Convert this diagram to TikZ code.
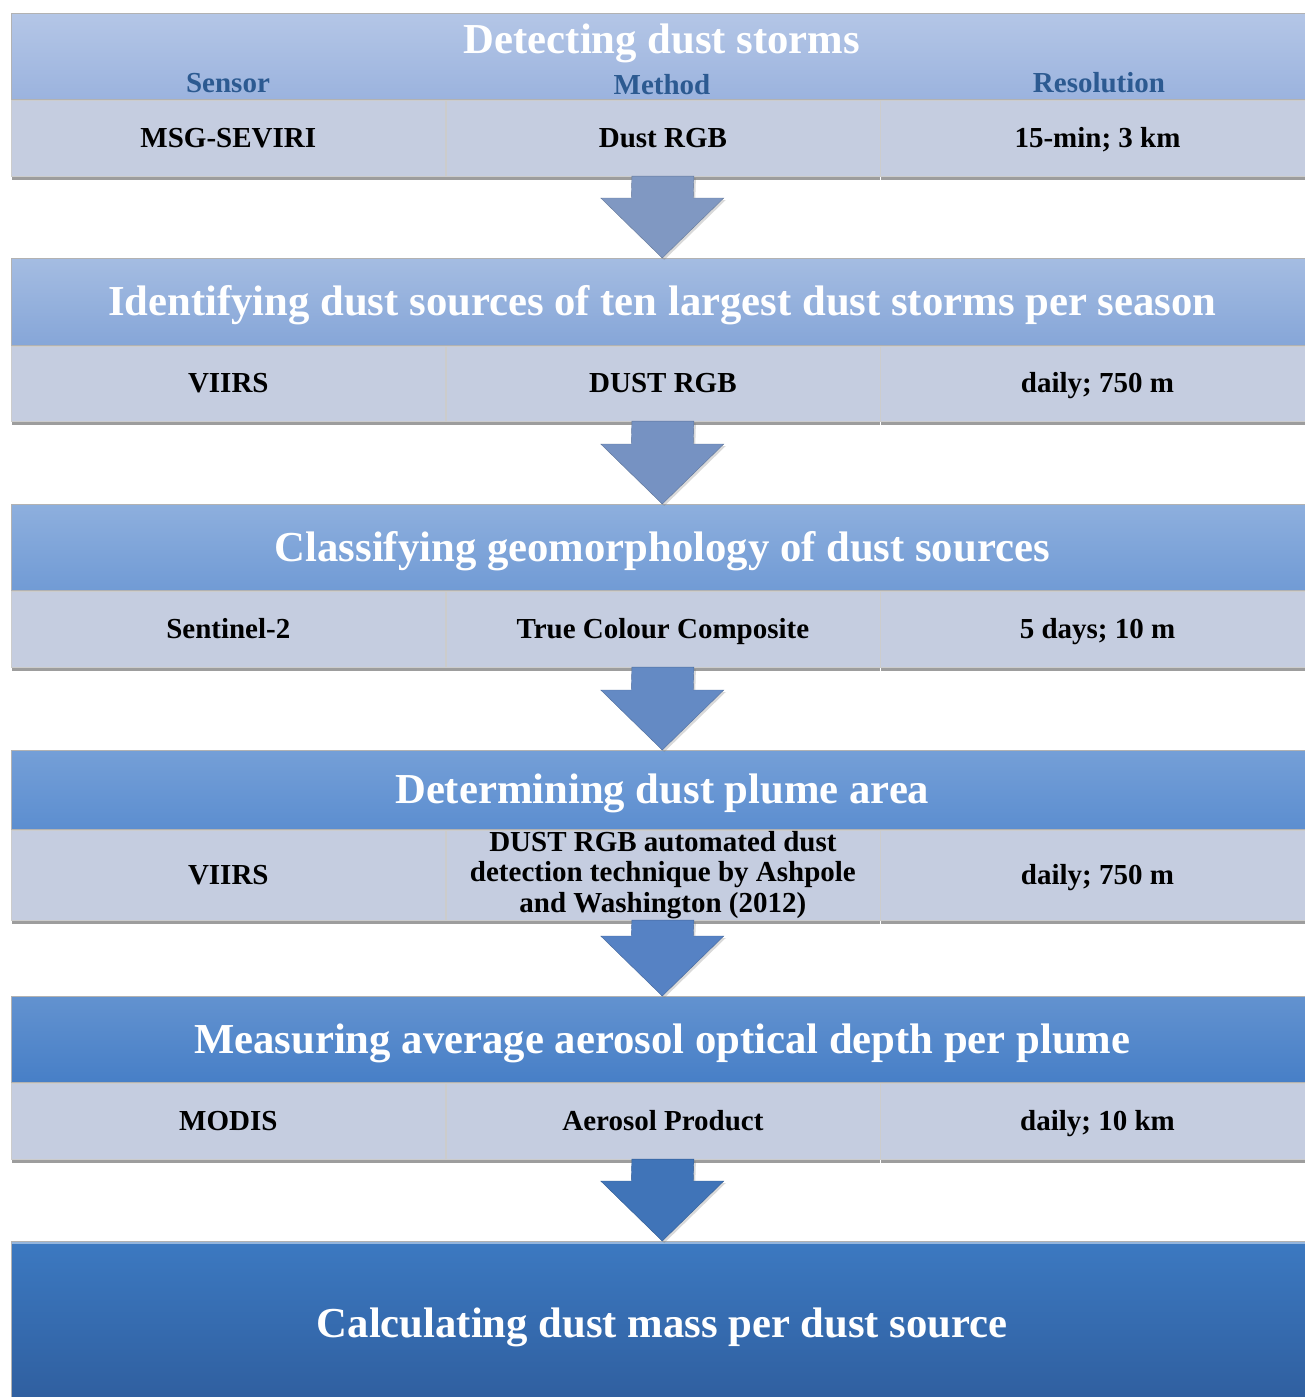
\documentclass[tikz,border=0pt]{standalone}
\usepackage{fontspec}
\setmainfont{Liberation Serif}
\usepackage{xcolor}
\usepackage{tikz}
\usetikzlibrary{calc,positioning,shadows}
\definecolor{stageA}{RGB}{155,179,222}
\definecolor{stageB}{RGB}{134,166,216}
\definecolor{stageC}{RGB}{113,155,213}
\definecolor{stageD}{RGB}{92,142,208}
\definecolor{stageE}{RGB}{71,127,199}
\definecolor{finalTop}{RGB}{60,121,193}
\definecolor{finalBot}{RGB}{47,94,158}
\definecolor{cellgray}{RGB}{197,205,224}
\definecolor{colblue}{RGB}{44,90,145}
\definecolor{arrowA}{RGB}{128,152,194}
\definecolor{arrowB}{RGB}{118,146,194}
\definecolor{arrowC}{RGB}{100,138,196}
\definecolor{arrowD}{RGB}{86,130,196}
\definecolor{arrowE}{RGB}{64,116,184}
\newcommand{\headfont}{\fontsize{42.7}{46}\selectfont\bfseries}
\newcommand{\datafont}{\fontsize{29}{30.5}\selectfont\bfseries}

\begin{document}
\begin{tikzpicture}[x=1pt,y=-1pt,
    stagehead/.style={rectangle, anchor=north west, minimum width=1302pt, inner sep=0pt,
      draw=black!30, line width=.5pt, text=white, font=\headfont, text height=28pt, text depth=0pt},
    stagetitle/.style={font=\headfont, text=white, inner sep=0pt, text height=28pt, text depth=0pt},
    colhead/.style={font=\datafont, text=colblue, inner sep=0pt},
    datacell/.style={rectangle, minimum width=434pt, inner sep=0pt, fill=cellgray,
      draw=black!20, line width=.6pt, font=\datafont, align=center, text height=19pt, text depth=0pt,
      drop shadow={shadow xshift=0.5pt, shadow yshift=-4pt, opacity=0.55, fill=black!70}},
    blockarrow/.style={fill=#1, draw=#1!80!black, line width=.4pt,
      drop shadow={shadow xshift=2pt, shadow yshift=-2pt, opacity=0.3}}]
  \useasboundingbox (0,0) rectangle (1304,1397);

  % stage 1
  \node[stagehead, minimum height=86pt, top color=stageA!75!white, bottom color=stageA] (h1) at (11,13) {};
  \node[stagetitle] (t1) at (662,40) {Detecting dust storms};
  \node[colhead] (l1) at (228,83) {Sensor};
  \node[colhead] (l2) at (662,85) {Method};
  \node[colhead] (l3) at (1099,83) {Resolution};
  \node[datacell, minimum height=76pt, anchor=north west] (c1s) at (h1.south west) {MSG-SEVIRI};
  \node[datacell, minimum height=76pt, right=0pt of c1s] (c1m) {Dust RGB};
  \node[datacell, minimum height=76pt, right=0pt of c1m] (c1r) {15-min; 3 km};

  % stage 2
  \node[stagehead, minimum height=87pt, top color=stageB!75!white, bottom color=stageB] (h2) at (11,258)
    {Identifying dust sources of ten largest dust storms per season};
  \node[datacell, minimum height=75pt, anchor=north west] (c2s) at (h2.south west) {VIIRS};
  \node[datacell, minimum height=75pt, right=0pt of c2s] (c2m) {DUST RGB};
  \node[datacell, minimum height=75pt, right=0pt of c2m] (c2r) {daily; 750 m};

  % stage 3
  \node[stagehead, minimum height=86pt, top color=stageC!80!white, bottom color=stageC] (h3) at (11,504)
    {Classifying geomorphology of dust sources};
  \node[datacell, minimum height=76pt, anchor=north west] (c3s) at (h3.south west) {Sentinel-2};
  \node[datacell, minimum height=76pt, right=0pt of c3s] (c3m) {True Colour Composite};
  \node[datacell, minimum height=76pt, right=0pt of c3m] (c3r) {5 days; 10 m};

  % stage 4
  \node[stagehead, minimum height=79pt, top color=stageD!85!white, bottom color=stageD] (h4) at (11,750)
    {Determining dust plume area};
  \node[datacell, minimum height=90pt, anchor=north west] (c4s) at (h4.south west) {VIIRS};
  \node[datacell, minimum height=90pt, right=0pt of c4s, text height=, text depth=] (c4m)
    {DUST RGB automated dust\\detection technique by Ashpole\\and Washington (2012)};
  \node[datacell, minimum height=90pt, right=0pt of c4m] (c4r) {daily; 750 m};

  % stage 5
  \node[stagehead, minimum height=86pt, top color=stageE!85!white, bottom color=stageE] (h5) at (11,996)
    {Measuring average aerosol optical depth per plume};
  \node[datacell, minimum height=76pt, anchor=north west] (c5s) at (h5.south west) {MODIS};
  \node[datacell, minimum height=76pt, right=0pt of c5s] (c5m) {Aerosol Product};
  \node[datacell, minimum height=76pt, right=0pt of c5m] (c5r) {daily; 10 km};

  % result
  \node[stagehead, minimum height=165pt, top color=finalTop, bottom color=finalBot,
    path picture={\draw[line width=5pt, finalTop!55!white]
      (path picture bounding box.north west) -- (path picture bounding box.north east);}] (h6) at (11,1241)
    {Calculating dust mass per dust source};

  % block arrows between the stages
  \draw[blockarrow=arrowA] ($(c1m.south)+(-31,0)$) -- ($(h2.north)+(-31,-60)$) -- ++(-30.5,0) -- (h2.north)
    -- ++(61.5,-60) -- ++(-30.5,0) -- ($(c1m.south)+(31,0)$) -- cycle;
  \draw[blockarrow=arrowB] ($(c2m.south)+(-31,0)$) -- ($(h3.north)+(-31,-60)$) -- ++(-30.5,0) -- (h3.north)
    -- ++(61.5,-60) -- ++(-30.5,0) -- ($(c2m.south)+(31,0)$) -- cycle;
  \draw[blockarrow=arrowC] ($(c3m.south)+(-31,0)$) -- ($(h4.north)+(-31,-60)$) -- ++(-30.5,0) -- (h4.north)
    -- ++(61.5,-60) -- ++(-30.5,0) -- ($(c3m.south)+(31,0)$) -- cycle;
  \draw[blockarrow=arrowD] ($(c4m.south)+(-31,0)$) -- ($(h5.north)+(-31,-60)$) -- ++(-30.5,0) -- (h5.north)
    -- ++(61.5,-60) -- ++(-30.5,0) -- ($(c4m.south)+(31,0)$) -- cycle;
  \draw[blockarrow=arrowE] ($(c5m.south)+(-31,0)$) -- ($(h6.north)+(-31,-60)$) -- ++(-30.5,0) -- (h6.north)
    -- ++(61.5,-60) -- ++(-30.5,0) -- ($(c5m.south)+(31,0)$) -- cycle;
\end{tikzpicture}
\end{document}
